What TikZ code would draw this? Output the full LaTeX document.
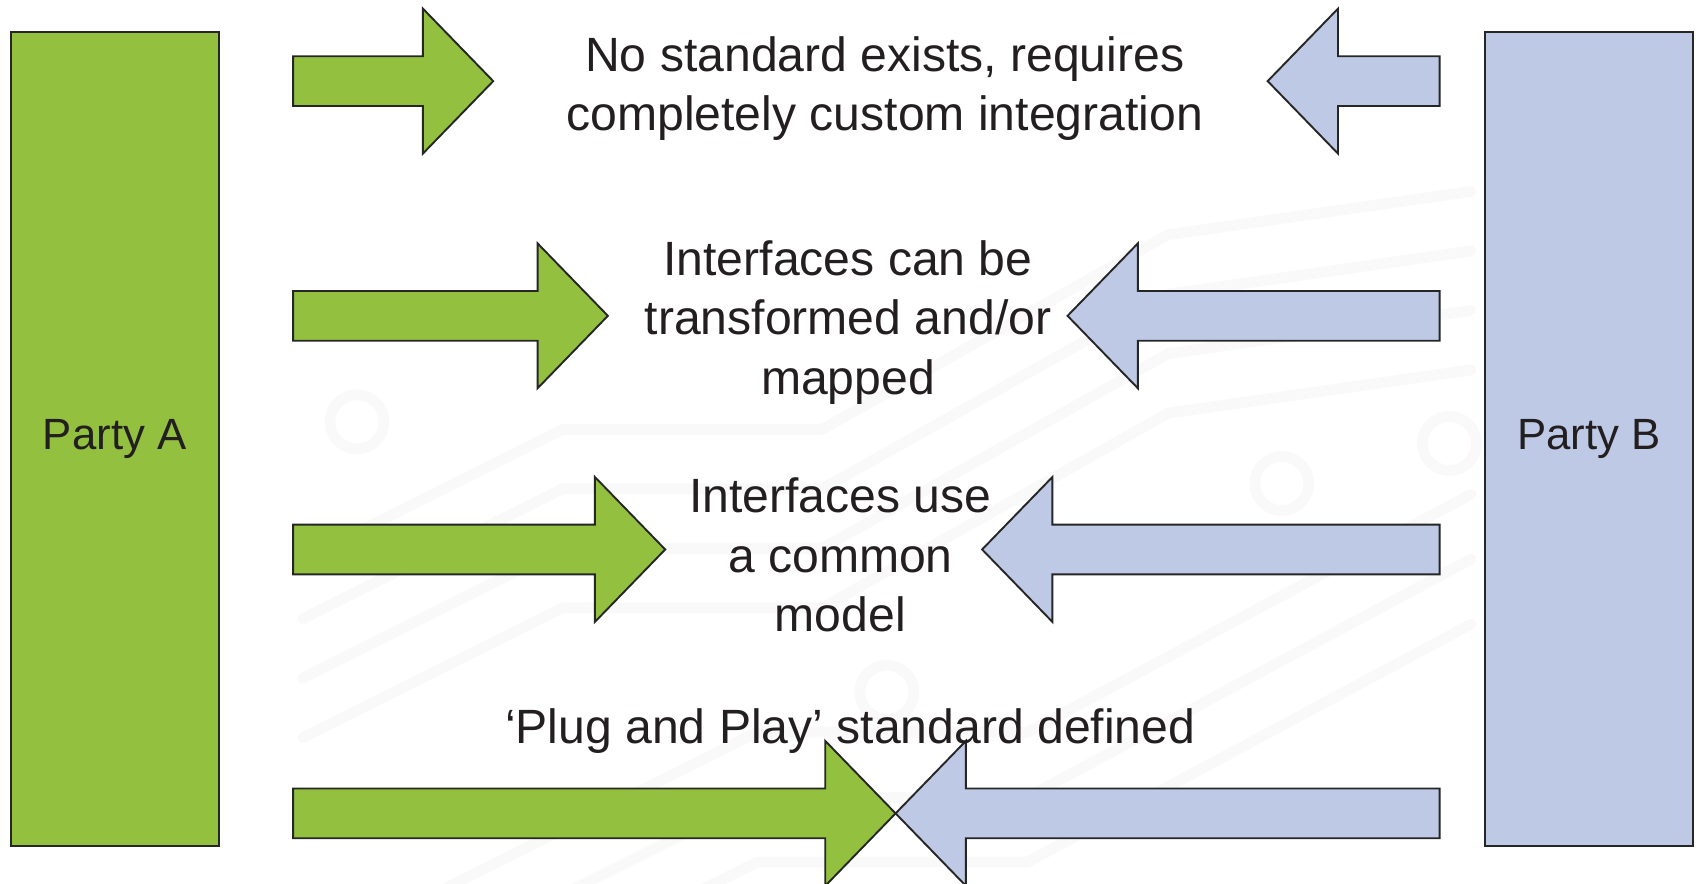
\documentclass[tikz,border=0pt]{standalone}
\usepackage{fontspec}
\setmainfont{Liberation Sans}
\usetikzlibrary{positioning}
\definecolor{partyA}{RGB}{147,193,63}
\definecolor{partyB}{RGB}{190,201,229}
\definecolor{inktext}{RGB}{35,31,32}
\tikzset{
  party/.style={draw=black!85, line width=0.5pt, minimum width=1.92cm,
    minimum height=7.52cm, inner sep=0pt, text=inktext,
    font=\fontsize{11.5}{14}\selectfont},
  caption/.style={align=center, inner sep=0pt, text=inktext,
    font=\fontsize{12.65}{15.6}\selectfont},
  blockarrow/.style={draw=black!85, line width=0.5pt, line join=miter},
  trace/.style={line width=0.1cm, black!2.5, line cap=round, line join=round}
}
\begin{document}
\begin{tikzpicture}[x=0.01cm, y=0.01cm]
  \useasboundingbox (0,0) rectangle (1568,817);

  % faint circuit board in the background
  \foreach \s in {0,55,110,165} {
    \draw[trace] (280,300-\s) -- (520,420-\s) -- (760,420-\s) -- (1080,600-\s) -- (1360,640-\s);
  }
  \foreach \s in {0,60,120} {
    \draw[trace] (400,-10-\s) -- (700,140-\s) -- (950,140-\s) -- (1360,360-\s);
  }
  \foreach \x/\y in {330/427, 1185/370, 820/177, 1340/407} {
    \draw[trace] (\x,\y) circle (25);
  }

  % the two parties
  \node[party, fill=partyA] (partya) at (106,411) {Party A};
  \node[party, fill=partyB] (partyb) at (1469,411) {Party B};

  % arrows from party A
  \foreach \y/\tip in {742/456, 525/562, 309/615, 65/828} {
    \draw[blockarrow, fill=partyA] (271,\y+23) -- (\tip-65,\y+23) -- (\tip-65,\y+67)
      -- (\tip,\y) -- (\tip-65,\y-67) -- (\tip-65,\y-23) -- (271,\y-23) -- cycle;
  }

  % arrows from party B
  \foreach \y/\tip in {742/1172, 525/987, 309/908, 65/828} {
    \draw[blockarrow, fill=partyB] (1331,\y+23) -- (\tip+65,\y+23) -- (\tip+65,\y+67)
      -- (\tip,\y) -- (\tip+65,\y-67) -- (\tip+65,\y-23) -- (1331,\y-23) -- cycle;
  }

  % levels of integration
  \node[caption] (nostd) at (818,735) {No standard exists, requires\\completely custom integration};
  \node[caption] (mapped) at (784,519) {Interfaces can be\\transformed and/or\\mapped};
  \node[caption] (common) at (777,304) {Interfaces use\\a common\\model};
  \node[caption] (plug) at (786,141) {‘Plug and Play’ standard defined};
\end{tikzpicture}
\end{document}
